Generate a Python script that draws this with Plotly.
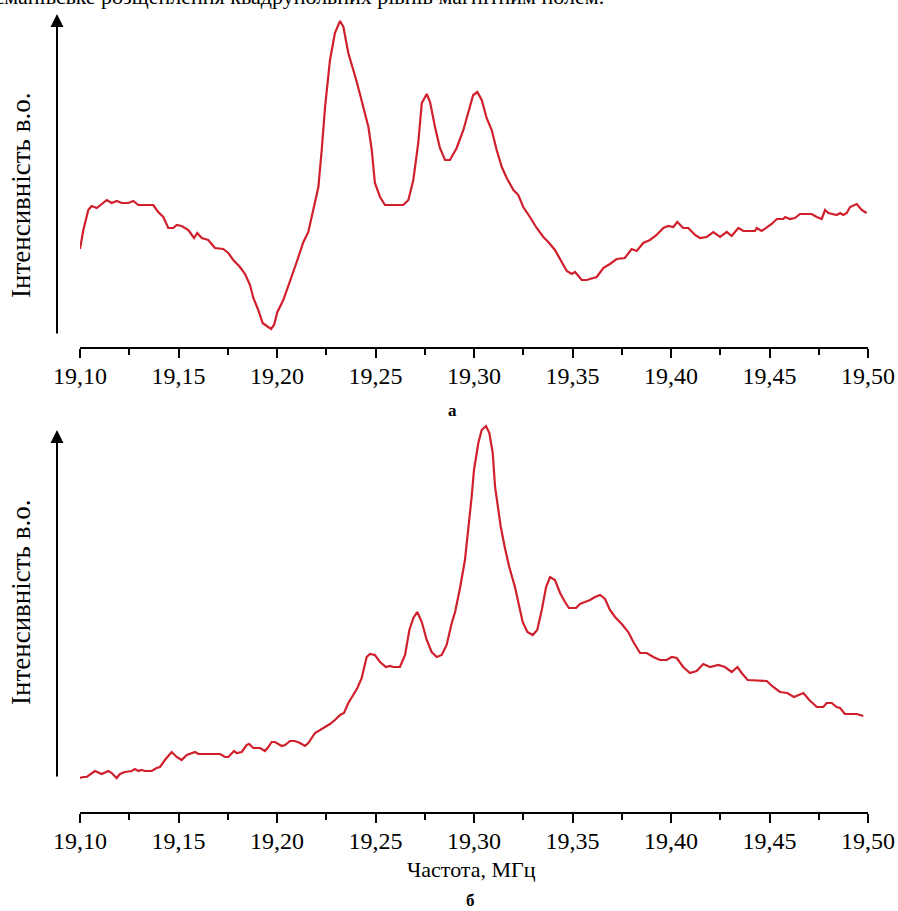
import plotly.graph_objects as go

# ---- Data: spectrum (a) ----
freq_a = [19.1000, 19.1017, 19.1042, 19.1059, 19.1085, 19.1110, 19.1136, 19.1161, 19.1186, 19.1212,
          19.1245, 19.1271, 19.1296, 19.1372, 19.1397, 19.1423, 19.1448, 19.1474, 19.1491, 19.1516,
          19.1550, 19.1579, 19.1595, 19.1618, 19.1651, 19.1685, 19.1727, 19.1753, 19.1778, 19.1812,
          19.1838, 19.1863, 19.1880, 19.1905, 19.1927, 19.1948, 19.1970, 19.1985, 19.2002, 19.2032,
          19.2066, 19.2100, 19.2134, 19.2159, 19.2184, 19.2210, 19.2227, 19.2244, 19.2269, 19.2294,
          19.2320, 19.2337, 19.2362, 19.2405, 19.2438, 19.2464, 19.2481, 19.2497, 19.2523, 19.2548,
          19.2641, 19.2667, 19.2692, 19.2717, 19.2735, 19.2760, 19.2777, 19.2802, 19.2827, 19.2853,
          19.2878, 19.2912, 19.2946, 19.2980, 19.2996, 19.3017, 19.3039, 19.3064, 19.3090, 19.3115,
          19.3141, 19.3166, 19.3200, 19.3225, 19.3250, 19.3284, 19.3318, 19.3352, 19.3377, 19.3411,
          19.3445, 19.3471, 19.3496, 19.3513, 19.3547, 19.3572, 19.3606, 19.3623, 19.3656, 19.3690,
          19.3724, 19.3766, 19.3800, 19.3826, 19.3859, 19.3893, 19.3927, 19.3961, 19.3986, 19.4012,
          19.4032, 19.4062, 19.4088, 19.4122, 19.4147, 19.4181, 19.4215, 19.4249, 19.4283, 19.4308,
          19.4342, 19.4367, 19.4426, 19.4435, 19.4460, 19.4486, 19.4511, 19.4537, 19.4570, 19.4579,
          19.4604, 19.4629, 19.4655, 19.4714, 19.4740, 19.4765, 19.4782, 19.4799, 19.4824, 19.4841,
          19.4858, 19.4875, 19.4892, 19.4909, 19.4943, 19.4968, 19.4993]
intensity_a = [9.8, 11.7, 13.7, 14.1, 13.9, 14.3, 14.7, 14.4, 14.6, 14.4,
               14.4, 14.6, 14.2, 14.2, 13.5, 13.0, 11.9, 11.9, 12.2, 12.1,
               11.7, 10.9, 11.4, 10.9, 10.7, 9.9, 9.8, 9.4, 8.7, 8.0,
               7.3, 6.2, 4.9, 3.7, 2.4, 2.1, 1.8, 2.2, 3.5, 4.7,
               6.5, 8.5, 10.5, 11.5, 13.7, 16.0, 19.7, 24.0, 28.7, 31.4,
               32.6, 32.0, 29.4, 26.5, 24.0, 22.0, 19.7, 16.4, 15.0, 14.2,
               14.2, 14.7, 16.7, 20.4, 24.4, 25.3, 24.5, 22.0, 19.9, 18.7,
               18.7, 19.9, 21.7, 24.0, 25.2, 25.5, 24.7, 22.9, 21.7, 19.7,
               18.0, 16.9, 15.7, 15.2, 14.0, 13.0, 11.9, 11.0, 10.5, 9.7,
               8.5, 7.6, 7.3, 7.5, 6.7, 6.7, 6.9, 7.0, 7.9, 8.3,
               8.8, 8.9, 9.8, 9.6, 10.4, 10.7, 11.2, 11.9, 12.1, 12.0,
               12.5, 11.9, 11.9, 11.2, 10.9, 11.0, 11.5, 11.0, 11.5, 11.1,
               11.9, 11.6, 11.6, 11.9, 11.6, 12.0, 12.3, 12.8, 12.8, 13.0,
               12.8, 12.9, 13.3, 13.3, 13.0, 12.8, 13.7, 13.4, 13.3, 13.2,
               13.4, 13.2, 13.4, 14.0, 14.3, 13.7, 13.4]

# ---- Data: spectrum (б) ----
freq_b = [19.1000, 19.1017, 19.1034, 19.1059, 19.1076, 19.1110, 19.1144, 19.1161, 19.1186, 19.1203,
          19.1228, 19.1262, 19.1279, 19.1296, 19.1313, 19.1330, 19.1364, 19.1389, 19.1406, 19.1431,
          19.1465, 19.1491, 19.1516, 19.1542, 19.1558, 19.1584, 19.1601, 19.1711, 19.1736, 19.1753,
          19.1782, 19.1795, 19.1821, 19.1846, 19.1859, 19.1880, 19.1914, 19.1939, 19.1956, 19.1973,
          19.1990, 19.2024, 19.2041, 19.2066, 19.2091, 19.2117, 19.2142, 19.2159, 19.2193, 19.2218,
          19.2244, 19.2269, 19.2294, 19.2320, 19.2340, 19.2362, 19.2387, 19.2408, 19.2430, 19.2455,
          19.2472, 19.2497, 19.2523, 19.2553, 19.2574, 19.2590, 19.2624, 19.2650, 19.2672, 19.2692,
          19.2712, 19.2735, 19.2760, 19.2785, 19.2811, 19.2836, 19.2861, 19.2887, 19.2904, 19.2929,
          19.2954, 19.2971, 19.2988, 19.3000, 19.3022, 19.3039, 19.3061, 19.3078, 19.3095, 19.3107,
          19.3123, 19.3136, 19.3157, 19.3179, 19.3208, 19.3225, 19.3247, 19.3271, 19.3298, 19.3321,
          19.3344, 19.3366, 19.3386, 19.3411, 19.3437, 19.3462, 19.3482, 19.3518, 19.3538, 19.3563,
          19.3589, 19.3614, 19.3640, 19.3665, 19.3690, 19.3716, 19.3750, 19.3783, 19.3809, 19.3843,
          19.3877, 19.3910, 19.3944, 19.3978, 19.4004, 19.4029, 19.4062, 19.4096, 19.4130, 19.4164,
          19.4198, 19.4240, 19.4274, 19.4308, 19.4337, 19.4359, 19.4389, 19.4486, 19.4519, 19.4553,
          19.4590, 19.4624, 19.4672, 19.4702, 19.4740, 19.4773, 19.4790, 19.4816, 19.4841, 19.4858,
          19.4883, 19.4943, 19.4976]
intensity_b = [3.4, 3.5, 3.5, 3.9, 4.1, 3.8, 4.1, 3.9, 3.4, 3.8,
               4.0, 4.1, 4.3, 4.1, 4.2, 4.1, 4.1, 4.4, 4.5, 5.2,
               6.0, 5.5, 5.2, 5.7, 5.8, 6.0, 5.8, 5.8, 5.5, 5.5,
               6.1, 5.9, 6.0, 6.7, 6.8, 6.4, 6.4, 6.1, 6.5, 7.0,
               7.0, 6.6, 6.7, 7.1, 7.1, 6.9, 6.6, 6.9, 7.9, 8.2,
               8.5, 8.8, 9.2, 9.7, 9.9, 10.9, 11.7, 12.4, 13.4, 15.5,
               15.8, 15.7, 15.0, 14.5, 14.6, 14.5, 14.5, 15.7, 18.2, 19.4,
               20.0, 19.0, 17.2, 16.0, 15.5, 15.7, 16.7, 18.9, 20.0, 22.4,
               25.2, 28.2, 31.5, 34.2, 36.9, 38.2, 38.6, 37.9, 35.9, 32.5,
               30.5, 28.5, 26.4, 24.5, 22.5, 21.0, 19.0, 18.0, 17.7, 18.2,
               20.2, 22.5, 23.5, 23.2, 21.9, 21.0, 20.4, 20.4, 20.8, 21.0,
               21.2, 21.5, 21.7, 21.3, 20.2, 19.5, 18.8, 18.0, 17.0, 15.9,
               15.9, 15.5, 15.2, 15.2, 15.5, 15.4, 14.5, 13.9, 14.1, 14.8,
               14.5, 14.7, 14.5, 14.0, 14.5, 13.9, 13.2, 13.1, 12.5, 12.0,
               11.9, 11.5, 11.9, 11.2, 10.5, 10.5, 10.9, 10.9, 10.5, 10.4,
               9.8, 9.8, 9.6]

x_ticks = [19.10, 19.15, 19.20, 19.25, 19.30, 19.35, 19.40, 19.45, 19.50]
y_title = "Інтенсивність в.о."
x_title = "Частота, МГц"
panel_labels = ["а", "б"]
caption_cut = "Зеєманівське розщеплення квадрупольних рівнів магнітним полем."

W, H = 898, 911
RED = "#d0202c"
SERIF = "Liberation Serif"

def px(x):
    return x / W

def py(y):
    return 1 - y / H

fig = go.Figure()
fig.add_trace(go.Scatter(x=freq_a, y=intensity_a, mode="lines",
                         line=dict(color=RED, width=2.2), xaxis="x", yaxis="y",
                         showlegend=False, hoverinfo="skip"))
fig.add_trace(go.Scatter(x=freq_b, y=intensity_b, mode="lines",
                         line=dict(color=RED, width=2.2), xaxis="x2", yaxis="y2",
                         showlegend=False, hoverinfo="skip"))

xcommon = dict(range=[19.10, 19.50], domain=[px(80), px(868)], showline=True,
               linecolor="black", linewidth=2, ticks="outside", ticklen=9,
               tickwidth=2, tickcolor="black", tickvals=x_ticks, tickformat=".2f",
               minor=dict(dtick=0.025, tick0=19.10, ticks="outside", ticklen=6,
                          tickwidth=2, tickcolor="black"),
               tickfont=dict(family=SERIF, size=24, color="black"),
               ticklabelstandoff=-3,
               showgrid=False, zeroline=False, fixedrange=True, automargin=False)
ycommon = dict(showline=False, showticklabels=False, ticks="", showgrid=False,
               zeroline=False, fixedrange=True, automargin=False)

fig.update_layout(
    width=W, height=H, margin=dict(l=0, r=0, t=0, b=0, autoexpand=False),
    paper_bgcolor="white", plot_bgcolor="white",
    separators=", ",
    font=dict(family=SERIF, color="black"),
    xaxis=dict(anchor="y", **xcommon),
    yaxis=dict(anchor="x", domain=[py(347), py(13)], range=[0, 33.4], **ycommon),
    xaxis2=dict(anchor="y2", **xcommon),
    yaxis2=dict(anchor="x2", domain=[py(812), py(420)], range=[0, 39.2], **ycommon),
)

annotations = []
# y-axis arrows
for tip, tail in [(14, 335), (430, 778)]:
    annotations.append(dict(x=px(57), y=py(tip), xref="paper", yref="paper",
                            ax=0, ay=tail - tip, axref="pixel", ayref="pixel",
                            text="", showarrow=True, arrowhead=2, arrowsize=1.3,
                            arrowwidth=2, arrowcolor="black", standoff=0, startstandoff=0))
# y titles
for cy in [196, 603]:
    annotations.append(dict(x=px(21), y=py(cy), xref="paper", yref="paper",
                            text=y_title, textangle=-90, showarrow=False,
                            font=dict(family=SERIF, size=27, color="black"),
                            xanchor="center", yanchor="middle"))
# panel labels
annotations.append(dict(x=px(452), y=py(410), xref="paper", yref="paper",
                        text="<b>" + panel_labels[0] + "</b>", showarrow=False,
                        xanchor="center", yanchor="middle",
                        font=dict(family=SERIF, size=17, color="black")))
annotations.append(dict(x=px(470), y=py(900), xref="paper", yref="paper",
                        text="<b>" + panel_labels[1] + "</b>", showarrow=False,
                        xanchor="center", yanchor="middle",
                        font=dict(family=SERIF, size=17, color="black")))
# x title
annotations.append(dict(x=px(471), y=py(869), xref="paper", yref="paper",
                        text=x_title, showarrow=False,
                        xanchor="center", yanchor="middle",
                        font=dict(family=SERIF, size=22, color="black")))
# caption line cut at the very top edge (as in the reference)
annotations.append(dict(x=px(606), y=py(-3), xref="paper", yref="paper",
                        text=caption_cut, showarrow=False, xanchor="right",
                        yanchor="middle",
                        font=dict(family=SERIF, size=22, color="black")))
fig.update_layout(annotations=annotations)

fig.write_html("out.html", config={"displayModeBar": False, "staticPlot": True},
               post_script="document.body.style.margin='0';")
